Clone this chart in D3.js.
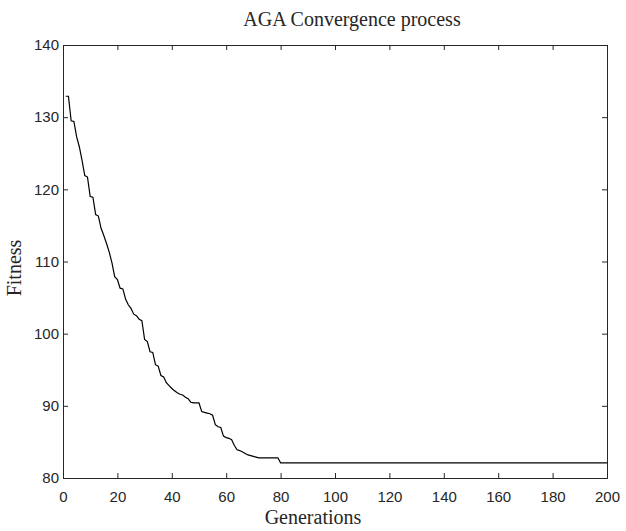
<!DOCTYPE html>
<html>
<head>
<meta charset="utf-8">
<script src="https://cdn.jsdelivr.net/npm/d3@7"></script>
<style>
  body { margin: 0; background: #fff; }
  svg { display: block; }
  .tick text { font-family: "Liberation Sans", Arial, sans-serif; font-size: 15px; fill: #262626; }
</style>
</head>
<body>
<svg id="chart"></svg>
<script>
// generations (last point closes the flat tail out to 200)
var generations = [1,2,3,4,5,6,7,8,9,10,11,12,13,14,15,16,17,18,19,20,
  21,22,23,24,25,26,27,28,29,30,31,32,33,34,35,36,37,38,39,40,
  41,42,43,44,45,46,47,48,49,50,51,52,53,54,55,56,57,58,59,60,
  61,62,63,64,65,66,67,68,69,70,71,72,73,74,75,76,77,78,79,80,200];
var fitness = [132.9,132.9,129.5,129.4,127.3,125.9,124.0,121.9,121.7,119.0,
  118.9,116.5,116.3,114.6,113.6,112.5,111.3,109.8,107.9,107.5,
  106.3,106.2,104.8,104.0,103.5,102.7,102.5,102.0,101.8,99.2,
  98.9,97.5,97.4,95.7,95.5,94.2,94.0,93.2,92.8,92.4,
  92.1,91.8,91.6,91.5,91.2,91.0,90.5,90.4,90.4,90.4,
  89.2,89.1,89.0,88.9,88.7,87.4,87.1,87.0,85.8,85.6,
  85.5,85.3,84.5,83.9,83.8,83.6,83.4,83.2,83.1,83.0,
  82.9,82.8,82.8,82.8,82.8,82.8,82.8,82.8,82.8,82.1,82.1];
var xTicks = [0,20,40,60,80,100,120,140,160,180,200];
var yTicks = [80,90,100,110,120,130,140];

var width = 626, height = 531;
var plotLeft = 63, plotRight = 607, plotTop = 45, plotBottom = 478;

var svg = d3.select("#chart").attr("width", width).attr("height", height);

var x = d3.scaleLinear().domain([0, 200]).range([plotLeft, plotRight]);
var y = d3.scaleLinear().domain([80, 140]).range([plotBottom, plotTop]);

var axisColor = "#262626";

// bottom and left axes with inward ticks
var gx = svg.append("g")
    .attr("transform", "translate(0," + plotBottom + ")")
    .call(d3.axisBottom(x).tickValues(xTicks).tickSize(-5).tickPadding(13));
var gy = svg.append("g")
    .attr("transform", "translate(" + plotLeft + ",0)")
    .call(d3.axisLeft(y).tickValues(yTicks).tickSize(-5).tickPadding(4));

// top and right (box) with ticks, no labels
var gt = svg.append("g")
    .attr("transform", "translate(0," + plotTop + ")")
    .call(d3.axisTop(x).tickValues(xTicks).tickSize(-5).tickFormat(""));
var gr = svg.append("g")
    .attr("transform", "translate(" + plotRight + ",0)")
    .call(d3.axisRight(y).tickValues(yTicks).tickSize(-5).tickFormat(""));

[gx, gy, gt, gr].forEach(function(g) {
  g.select(".domain").attr("stroke", axisColor).attr("stroke-width", 1);
  g.selectAll(".tick line").attr("stroke", axisColor);
});

// convergence curve
var line = d3.line()
    .x(function(d, i) { return x(generations[i]); })
    .y(function(d) { return y(d); });

svg.append("path")
    .datum(fitness)
    .attr("fill", "none")
    .attr("stroke", "#000")
    .attr("stroke-width", 1.2)
    .attr("d", line);

// title and labels
var serif = "Liberation Serif, Times New Roman, serif";

svg.append("text")
    .attr("x", 352).attr("y", 26)
    .attr("text-anchor", "middle")
    .attr("font-family", serif)
    .attr("font-size", 20).attr("fill", axisColor)
    .text("AGA Convergence process");

svg.append("text")
    .attr("x", 313).attr("y", 524)
    .attr("text-anchor", "middle")
    .attr("font-family", serif)
    .attr("font-size", 20).attr("fill", axisColor)
    .text("Generations");

svg.append("text")
    .attr("transform", "translate(21,268) rotate(-90)")
    .attr("text-anchor", "middle")
    .attr("font-family", serif)
    .attr("font-size", 20).attr("fill", axisColor)
    .text("Fitness");
</script>
</body>
</html>
